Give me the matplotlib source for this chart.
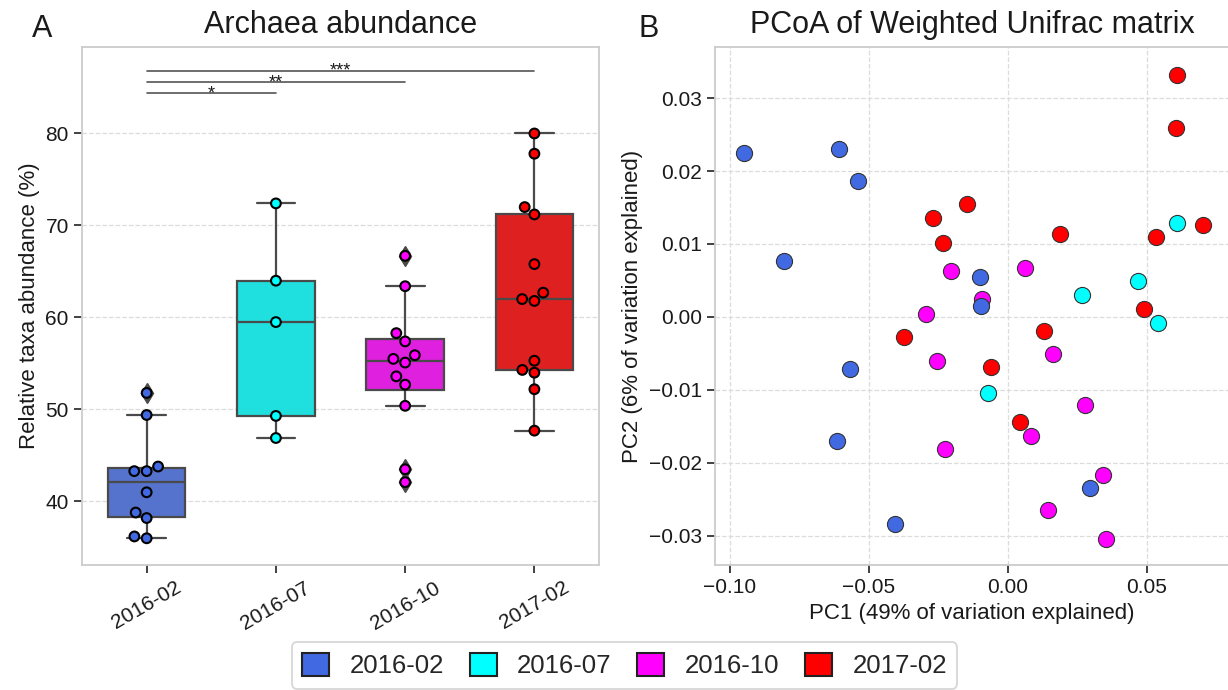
import matplotlib
matplotlib.use("Agg")
import matplotlib.pyplot as plt
from matplotlib.patches import Patch
import numpy as np
import pandas as pd
import seaborn as sns

# grupos y colores
grupos = ['2016-02', '2016-07', '2016-10', '2017-02']
colores = ['#4169E1', '#00FFFF', '#FF00FF', '#FF0000']

# abundancia relativa de arqueas (%) por muestreo
ab_1602 = [51.8, 49.4, 43.3, 43.3, 43.8, 41.0, 38.8, 38.2, 36.2, 36.0]
ab_1607 = [72.4, 64.0, 59.5, 49.3, 46.9]
ab_1610 = [66.7, 63.4, 58.3, 57.4, 55.9, 55.5, 55.1, 53.6, 52.7, 50.4, 43.5, 42.1]
ab_1702 = [80.0, 77.8, 72.0, 71.2, 65.8, 62.7, 62.0, 61.8, 55.3, 54.3, 54.0, 52.2, 47.7]

# comparaciones significativas (grupo a, grupo b, altura, etiqueta)
sig_a = [0, 0, 0]
sig_b = [1, 2, 3]
sig_y = [84.4, 85.6, 86.8]
sig_txt = ['*', '**', '***']

# PCoA (PC1, PC2)
pc1_1602 = [-0.0950, -0.0606, -0.0539, -0.0804, -0.0102, -0.0098, -0.0567, -0.0614, 0.0296, -0.0408]
pc2_1602 = [0.0225, 0.0230, 0.0186, 0.0077, 0.0055, 0.0015, -0.0072, -0.0170, -0.0235, -0.0284]
pc1_1607 = [0.0608, 0.0466, 0.0265, 0.0539, -0.0073]
pc2_1607 = [0.0129, 0.0049, 0.0030, -0.0008, -0.0104]
pc1_1610 = [-0.0204, 0.0060, -0.0095, -0.0296, -0.0255, 0.0161, 0.0278, 0.0082, -0.0225, 0.0341, 0.0145, 0.0352]
pc2_1610 = [0.0063, 0.0067, 0.0025, 0.0004, -0.0060, -0.0051, -0.0121, -0.0163, -0.0181, -0.0216, -0.0265, -0.0304]
pc1_1702 = [0.0608, 0.0605, -0.0147, -0.0270, -0.0235, 0.0700, 0.0186, 0.0531, 0.0490, -0.0373, 0.0128, -0.0061, 0.0045]
pc2_1702 = [0.0331, 0.0259, 0.0155, 0.0136, 0.0102, 0.0126, 0.0113, 0.0109, 0.0011, -0.0028, -0.0019, -0.0069, -0.0144]

sns.set_style('ticks')
plt.rcParams['font.family'] = ['Liberation Sans', 'DejaVu Sans']

# dataframe para el boxplot
abund = [ab_1602, ab_1607, ab_1610, ab_1702]
df = pd.DataFrame({
    'grupo': np.repeat(grupos, [len(a) for a in abund]),
    'valor': np.concatenate(abund),
})

fig = plt.figure(figsize=(12.28, 6.9), dpi=100)
ax1 = fig.add_axes([0.0668, 0.1812, 0.4210, 0.7507])
ax2 = fig.add_axes([0.5822, 0.1812, 0.4186, 0.7507])

for ax in (ax1, ax2):
    ax.set_axisbelow(True)
    ax.grid(True, ls='--', color='#dcdcdc', lw=0.9)
    for s in ax.spines.values():
        s.set_color('#cccccc')
        s.set_linewidth(1.3)
    ax.tick_params(labelsize=15, length=6, width=1.3, color='#333333', labelcolor='#1a1a1a')

# Panel A: boxplot + swarm
sns.boxplot(data=df, x='grupo', y='valor', hue='grupo', order=grupos, hue_order=grupos,
            palette=colores, width=0.6, linewidth=1.6, linecolor='#4a4a4a',
            flierprops=dict(marker='d', markersize=10, markerfacecolor='#4a4a4a',
                            markeredgecolor='#4a4a4a'),
            legend=False, ax=ax1)
sns.swarmplot(data=df, x='grupo', y='valor', hue='grupo', order=grupos, hue_order=grupos,
              palette=colores, size=7, linewidth=1.5, edgecolor='black',
              legend=False, ax=ax1)

for a, b, y, t in zip(sig_a, sig_b, sig_y, sig_txt):
    ax1.plot([a, b], [y, y], color='#555555', lw=1.2)
    ax1.text((a + b) / 2, y - 0.55, t, ha='center', va='baseline', fontsize=13, color='#1a1a1a')

ax1.set_xlim(-0.5, 3.5)
ax1.set_ylim(33.1, 89.4)
ax1.set_yticks([40, 50, 60, 70, 80])
ax1.set_xlabel('')
ax1.set_ylabel('Relative taxa abundance (%)', fontsize=16, color='#1a1a1a')
ax1.set_title('Archaea abundance', fontsize=22, pad=10, color='#1a1a1a')
plt.setp(ax1.get_xticklabels(), rotation=30, ha='center')

# Panel B: PCoA
pc1 = [pc1_1602, pc1_1607, pc1_1610, pc1_1702]
pc2 = [pc2_1602, pc2_1607, pc2_1610, pc2_1702]
for i in [3, 2, 0, 1]:
    ax2.scatter(pc1[i], pc2[i], s=135, color=colores[i], edgecolor='#333333', linewidth=0.8, zorder=3)

ax2.set_xlim(-0.1054, 0.0795)
ax2.set_ylim(-0.034, 0.037)
ax2.set_xticks([-0.10, -0.05, 0.00, 0.05])
ax2.set_yticks([-0.03, -0.02, -0.01, 0.00, 0.01, 0.02, 0.03])
ax2.set_xticklabels(['\u22120.10', '\u22120.05', '0.00', '0.05'])
ax2.set_yticklabels(['\u22120.03', '\u22120.02', '\u22120.01', '0.00', '0.01', '0.02', '0.03'])
ax2.set_xlabel('PC1 (49% of variation explained)', fontsize=16, color='#1a1a1a')
ax2.set_ylabel('PC2 (6% of variation explained)', fontsize=16, color='#1a1a1a')
ax2.set_title('PCoA of Weighted Unifrac matrix', fontsize=22, pad=10, color='#1a1a1a')

# letras de panel
fig.text(0.026, 0.946, 'A', fontsize=22, color='#1a1a1a')
fig.text(0.520, 0.946, 'B', fontsize=22, color='#1a1a1a')

# leyenda común
handles = [Patch(facecolor=c, edgecolor='#222222', linewidth=1.5, label=g) for g, c in zip(grupos, colores)]
leg = fig.legend(handles=handles, loc='center', bbox_to_anchor=(0.5086, 0.0355), ncol=4,
                 fontsize=18.5, handlelength=1.05, handleheight=1.05, columnspacing=1.0,
                 handletextpad=0.8, frameon=True, fancybox=True, borderpad=0.4)
leg.get_frame().set_edgecolor('#cccccc')
leg.get_frame().set_linewidth(1.3)

plt.savefig('out.png', dpi=100)
